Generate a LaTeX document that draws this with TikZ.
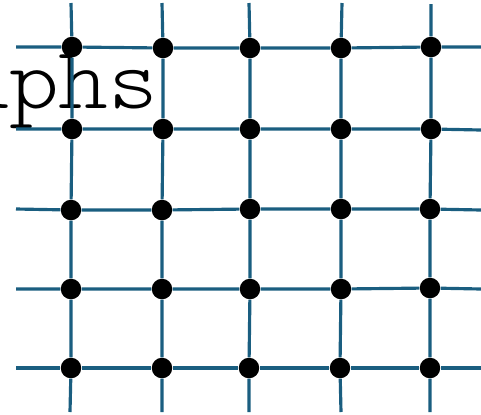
\documentclass[tikz,border=0pt]{standalone}
\usepackage{fontspec}
\setmonofont{Latin Modern Mono Light}
\definecolor{gridblue}{RGB}{26,94,128}
\tikzset{
  vertex/.style={circle, fill=black, inner sep=0pt, minimum size=0.41cm},
  edge/.style={draw=gridblue, line width=1.8pt}
}

\begin{document}
\begin{tikzpicture}[x=0.02cm, y=-0.02cm]
  \useasboundingbox (0,0) rectangle (481,414);
  \clip (0,0) rectangle (481,414);
  \node[anchor=base west, inner sep=0pt, font=\ttfamily\fontsize{50}{54}\selectfont] (title) at (-41,108) {\scalebox{1.08}[1]{aphs}};

  % loose ends of the lattice
  \coordinate (l1) at (16,47);  \coordinate (r1) at (481,47);
  \coordinate (l2) at (16,129); \coordinate (r2) at (481,130);
  \coordinate (l3) at (16,209); \coordinate (r3) at (481,210);
  \coordinate (l4) at (16,289); \coordinate (r4) at (481,289);
  \coordinate (l5) at (16,368); \coordinate (r5) at (481,368);
  \coordinate (t1) at (71,3);   \coordinate (b1) at (70,412);
  \coordinate (t2) at (162,3);  \coordinate (b2) at (162,412);
  \coordinate (t3) at (249,3);  \coordinate (b3) at (249,412);
  \coordinate (t4) at (342,3);  \coordinate (b4) at (341,412);
  \coordinate (t5) at (431,4);  \coordinate (b5) at (430,412);

  % vertices
  \node[vertex] (v11) at (72,47) {};
  \node[vertex] (v12) at (163,48) {};
  \node[vertex] (v13) at (250,48) {};
  \node[vertex] (v14) at (341,48) {};
  \node[vertex] (v15) at (431,47) {};
  \node[vertex] (v21) at (72,129) {};
  \node[vertex] (v22) at (163,129) {};
  \node[vertex] (v23) at (250,129) {};
  \node[vertex] (v24) at (341,129) {};
  \node[vertex] (v25) at (431,129) {};
  \node[vertex] (v31) at (71,210) {};
  \node[vertex] (v32) at (162,210) {};
  \node[vertex] (v33) at (250,209) {};
  \node[vertex] (v34) at (341,209) {};
  \node[vertex] (v35) at (430,209) {};
  \node[vertex] (v41) at (71,289) {};
  \node[vertex] (v42) at (162,289) {};
  \node[vertex] (v43) at (250,289) {};
  \node[vertex] (v44) at (341,289) {};
  \node[vertex] (v45) at (430,288) {};
  \node[vertex] (v51) at (71,368) {};
  \node[vertex] (v52) at (162,368) {};
  \node[vertex] (v53) at (249,368) {};
  \node[vertex] (v54) at (340,368) {};
  \node[vertex] (v55) at (430,368) {};

  % rows
  \draw[edge] (l1) -- (v11) -- (v12) -- (v13) -- (v14) -- (v15) -- (r1);
  \draw[edge] (l2) -- (v21) -- (v22) -- (v23) -- (v24) -- (v25) -- (r2);
  \draw[edge] (l3) -- (v31) -- (v32) -- (v33) -- (v34) -- (v35) -- (r3);
  \draw[edge] (l4) -- (v41) -- (v42) -- (v43) -- (v44) -- (v45) -- (r4);
  \draw[edge] (l5) -- (v51) -- (v52) -- (v53) -- (v54) -- (v55) -- (r5);
  % columns
  \draw[edge] (t1) -- (v11) -- (v21) -- (v31) -- (v41) -- (v51) -- (b1);
  \draw[edge] (t2) -- (v12) -- (v22) -- (v32) -- (v42) -- (v52) -- (b2);
  \draw[edge] (t3) -- (v13) -- (v23) -- (v33) -- (v43) -- (v53) -- (b3);
  \draw[edge] (t4) -- (v14) -- (v24) -- (v34) -- (v44) -- (v54) -- (b4);
  \draw[edge] (t5) -- (v15) -- (v25) -- (v35) -- (v45) -- (v55) -- (b5);
\end{tikzpicture}
\end{document}
